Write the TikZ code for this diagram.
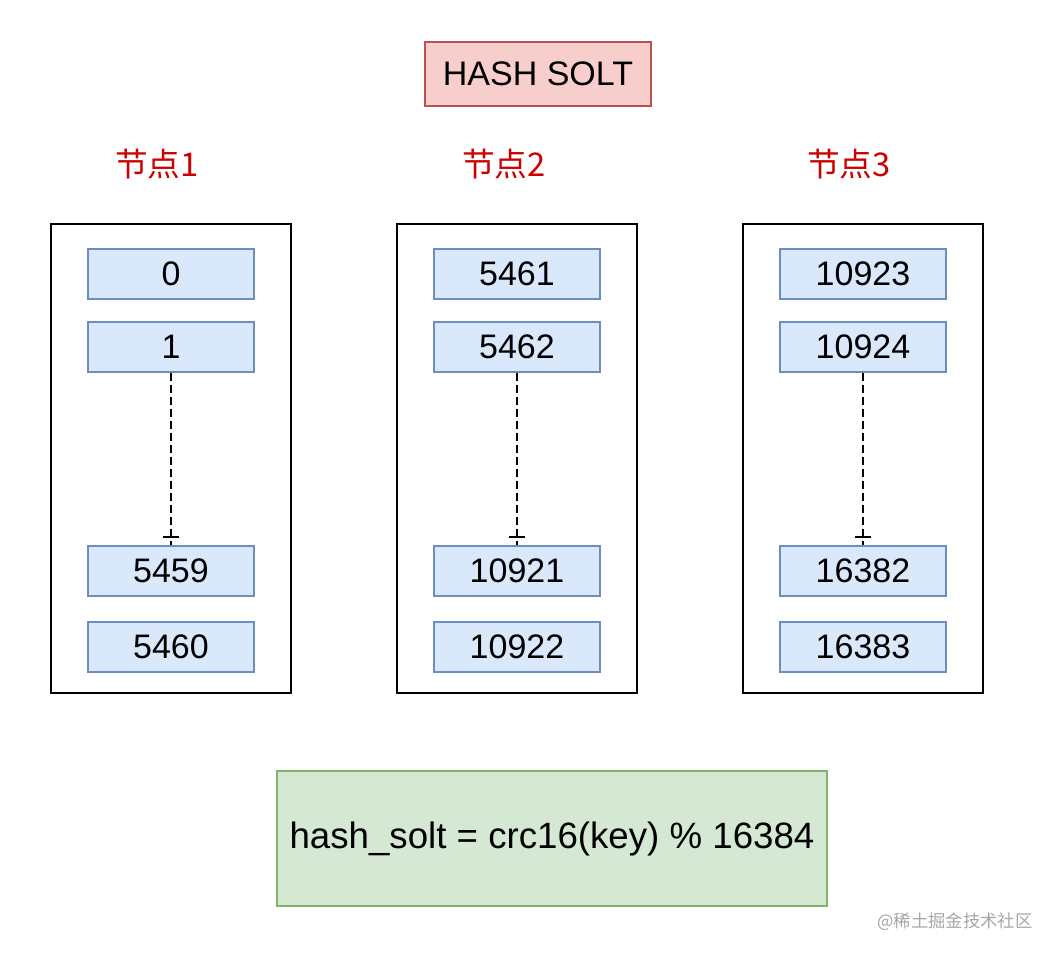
\documentclass[tikz,border=0pt]{standalone}
\usepackage{fontspec}
\setmainfont{Liberation Sans}
\newfontfamily\cjk{Noto Sans CJK SC}
\usetikzlibrary{decorations.markings}
\definecolor{titlefill}{HTML}{F8CECC}
\definecolor{titleline}{HTML}{B85450}
\definecolor{slotfill}{HTML}{DAE8FC}
\definecolor{slotline}{HTML}{6C8EBF}
\definecolor{formfill}{HTML}{D5E8D4}
\definecolor{formline}{HTML}{82B366}
\definecolor{nodered}{HTML}{CC0000}

\begin{document}
\begin{tikzpicture}[x=0.75pt, y=-0.75pt,
    every node/.style={font=\fontsize{25.5}{30}\selectfont, inner sep=0pt},
    title/.style={draw=titleline, fill=titlefill, line width=1.5pt, minimum width=169.5pt, minimum height=48pt},
    server/.style={draw, line width=1.5pt, minimum width=180pt, minimum height=351.75pt},
    slot/.style={draw=slotline, fill=slotfill, line width=1.5pt, minimum width=124.5pt, minimum height=37.5pt},
    servername/.style={text=nodered, font=\cjk\fontsize{24.5}{29}\selectfont},
    formula/.style={draw=formline, fill=formfill, line width=1.5pt, minimum width=412.5pt, minimum height=101.25pt,
      font=\fontsize{27.5}{32}\selectfont},
    slotlink/.style={dashed, dash pattern=on 6pt off 3pt, line width=1.5pt,
      postaction={decorate, decoration={markings,
        mark=at position -6pt with {\draw[solid, line width=1.5pt] (0,-6pt) -- (0,6pt);}}}}]
   \useasboundingbox (0,0) rectangle (1062,958);
   \node[title] (T) at (538,74) {HASH SOLT};
   % node 1
   \node[servername] (L1) at (157,164) {节点1};
   \node[server] (N1) at (171,458.5) {};
   \node[slot] (N1a) at (171,273.5) {0};
   \node[slot] (N1b) at (171,347) {1};
   \node[slot] (N1c) at (171,571) {5459};
   \node[slot] (N1d) at (171,647) {5460};
   \draw[slotlink] (N1b) to (N1c);
   % node 2
   \node[servername] (L2) at (504,164) {节点2};
   \node[server] (N2) at (517,458.5) {};
   \node[slot] (N2a) at (517,273.5) {5461};
   \node[slot] (N2b) at (517,347) {5462};
   \node[slot] (N2c) at (517,571) {10921};
   \node[slot] (N2d) at (517,647) {10922};
   \draw[slotlink] (N2b) to (N2c);
   % node 3
   \node[servername] (L3) at (849,164) {节点3};
   \node[server] (N3) at (863,458.5) {};
   \node[slot] (N3a) at (863,273.5) {10923};
   \node[slot] (N3b) at (863,347) {10924};
   \node[slot] (N3c) at (863,571) {16382};
   \node[slot] (N3d) at (863,647) {16383};
   \draw[slotlink] (N3b) to (N3c);
   \node[formula] (F) at (552,838.5) {hash\_solt = crc16(key) \% 16384};
   \node[text=black!35, font=\cjk\fontsize{13}{15}\selectfont] (W) at (955,922) {@稀土掘金技术社区};
 \end{tikzpicture}
\end{document}
